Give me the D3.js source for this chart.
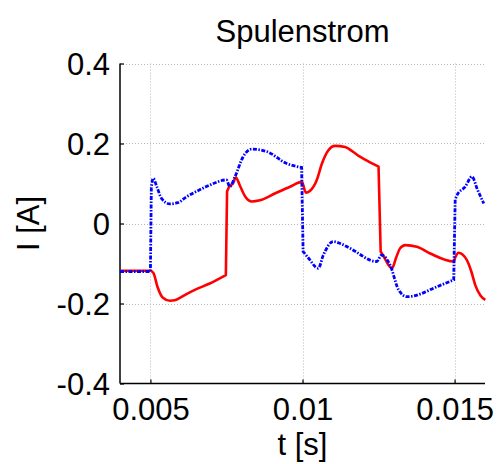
<!DOCTYPE html>
<html>
<head>
<meta charset="utf-8">
<script src="https://cdn.jsdelivr.net/npm/d3@7"></script>
<style>
  html, body { margin: 0; padding: 0; background: #fff; }
  svg { display: block; font-family: "Liberation Sans", Arial, sans-serif; }
</style>
</head>
<body>
<svg id="chart" width="498" height="464"></svg>
<script>
// Coil current over time: two phases
const title = "Spulenstrom";
const xLabel = "t [s]";
const yLabel = "I [A]";
const xTicks = [0.005, 0.01, 0.015];
const xTickLabels = ["0.005", "0.01", "0.015"];
const yTicks = [-0.4, -0.2, 0, 0.2, 0.4];
const yTickLabels = ["-0.4", "-0.2", "0", "0.2", "0.4"];

// Phase A (solid red): [t, I]
const phaseA = [
  [0.0040, -0.118], [0.0050, -0.118], [0.00510, -0.124], [0.00524, -0.160],
  [0.00540, -0.185], [0.00564, -0.193], [0.00580, -0.192], [0.00597, -0.186],
  [0.00620, -0.176], [0.00646, -0.166], [0.00695, -0.150], [0.00748, -0.129],
  [0.00752, 0.080], [0.00759, 0.092], [0.00771, 0.100], [0.00781, 0.115],
  [0.00794, 0.095], [0.00811, 0.068], [0.00833, 0.055], [0.00860, 0.058],
  [0.00909, 0.075], [0.00959, 0.092], [0.00998, 0.104], [0.01011, 0.077],
  [0.01025, 0.082], [0.01047, 0.109], [0.01064, 0.150], [0.01084, 0.182],
  [0.01107, 0.194], [0.01140, 0.191], [0.01163, 0.181], [0.01189, 0.167],
  [0.01222, 0.153], [0.01250, 0.142], [0.01257, -0.070], [0.01265, -0.080],
  [0.01294, -0.112], [0.01308, -0.085], [0.01321, -0.062], [0.01338, -0.054],
  [0.01376, -0.058], [0.01420, -0.075], [0.01497, -0.095], [0.01502, -0.085],
  [0.01513, -0.073], [0.01540, -0.091], [0.01555, -0.120], [0.01568, -0.154],
  [0.01585, -0.180], [0.01601, -0.191]
];

// Phase B (blue dash-dot): [t, I]
const phaseB = [
  [0.0040, -0.120], [0.0050, -0.120], [0.00503, 0.090], [0.00509, 0.113],
  [0.00521, 0.092], [0.00537, 0.062], [0.00564, 0.049], [0.00590, 0.052],
  [0.00619, 0.067], [0.00656, 0.082], [0.00695, 0.096], [0.00750, 0.109],
  [0.00761, 0.092], [0.00778, 0.117], [0.00805, 0.167], [0.00833, 0.186],
  [0.00882, 0.180], [0.00948, 0.150], [0.00997, 0.140], [0.01002, -0.070],
  [0.01018, -0.085], [0.01052, -0.112], [0.01068, -0.080], [0.01101, -0.045],
  [0.01124, -0.050], [0.01156, -0.062], [0.01244, -0.095], [0.01260, -0.079],
  [0.01288, -0.104], [0.01316, -0.166], [0.01343, -0.183], [0.01376, -0.179],
  [0.01436, -0.160], [0.01497, -0.141], [0.01502, 0.060], [0.01508, 0.071],
  [0.01535, 0.092], [0.01557, 0.117], [0.01575, 0.085], [0.01596, 0.050]
];

const svg = d3.select("#chart");
const x = d3.scaleLinear().domain([0.004, 0.016]).range([120, 485]);
const y = d3.scaleLinear().domain([-0.4, 0.4]).range([383.5, 63.5]);
const fs = 31;

// grid
const grid = svg.append("g");
grid.selectAll("line.gx").data(xTicks).join("line")
  .attr("x1", d => Math.round(x(d)) + 0.5).attr("x2", d => Math.round(x(d)) + 0.5)
  .attr("y1", y(0.4)).attr("y2", y(-0.4))
  .attr("stroke", "#b8b8b8").attr("stroke-width", 1).attr("stroke-dasharray", "1,2");
grid.selectAll("line.gy").data(yTicks.filter(d => d > -0.4)).join("line")
  .attr("x1", x.range()[0]).attr("x2", x.range()[1])
  .attr("y1", d => Math.round(y(d)) + 0.5).attr("y2", d => Math.round(y(d)) + 0.5)
  .attr("stroke", "#b8b8b8").attr("stroke-width", 1).attr("stroke-dasharray", "1,2");

// axes with inward ticks
const xAxis = d3.axisBottom(x).tickValues(xTicks).tickSize(-4)
  .tickFormat((d, i) => xTickLabels[i]).tickPadding(12);
const yAxis = d3.axisLeft(y).tickValues(yTicks).tickSize(-4)
  .tickFormat((d, i) => yTickLabels[i]).tickPadding(12);

const gx = svg.append("g").attr("transform", `translate(0,${y(-0.4)})`).call(xAxis);
const gy = svg.append("g").attr("transform", `translate(${x(0.004)},0)`).call(yAxis);
[gx, gy].forEach(g => {
  g.select(".domain").attr("stroke", "#000").attr("stroke-width", 1.5)
    .attr("d", g === gx ? `M${x.range()[0]},0H${x.range()[1]}` : `M0,${y.range()[0]}V${y.range()[1]}`);
  g.selectAll(".tick line").attr("stroke", "#000").attr("stroke-width", 1.2);
  g.selectAll(".tick text").attr("fill", "#000").style("font-size", fs + "px")
    .style("font-family", "'Liberation Sans', Arial, sans-serif");
});
gx.selectAll(".tick text").attr("dy", null).attr("y", 36);
gy.selectAll(".tick text").attr("dy", "0.36em").attr("x", -10);

// curves: smooth between switching instants, straight vertical jumps at them
const smooth = d3.line().x(d => x(d[0])).y(d => y(d[1])).curve(d3.curveMonotoneX);
function pathWithJumps(pts) {
  const segs = [[pts[0]]];
  for (let i = 1; i < pts.length; i++) {
    const jump = (pts[i][0] - pts[i - 1][0]) < 0.0001 && Math.abs(pts[i][1] - pts[i - 1][1]) > 0.1;
    if (jump) segs.push([]);
    segs[segs.length - 1].push(pts[i]);
  }
  return segs.map((s, i) => {
    const d = smooth(s);
    return i === 0 ? d : "L" + d.slice(1);
  }).join("");
}

svg.append("path").attr("d", pathWithJumps(phaseA))
  .attr("fill", "none").attr("stroke", "#ff0000").attr("stroke-width", 2.6)
  .attr("stroke-linejoin", "round");
svg.append("path").attr("d", pathWithJumps(phaseB))
  .attr("fill", "none").attr("stroke", "#0000ff").attr("stroke-width", 2.8)
  .attr("stroke-dasharray", "4,1.5,1.5,1.5");

// labels
svg.append("text").attr("x", 302.5).attr("y", 42).attr("text-anchor", "middle")
  .style("font-size", fs + "px").text(title);
svg.append("text").attr("x", 302.5).attr("y", 455).attr("text-anchor", "middle")
  .style("font-size", fs + "px").text(xLabel);
svg.append("text").attr("transform", "translate(38.5,223.5) rotate(-90)")
  .attr("text-anchor", "middle").style("font-size", fs + "px").text(yLabel);
</script>
</body>
</html>
